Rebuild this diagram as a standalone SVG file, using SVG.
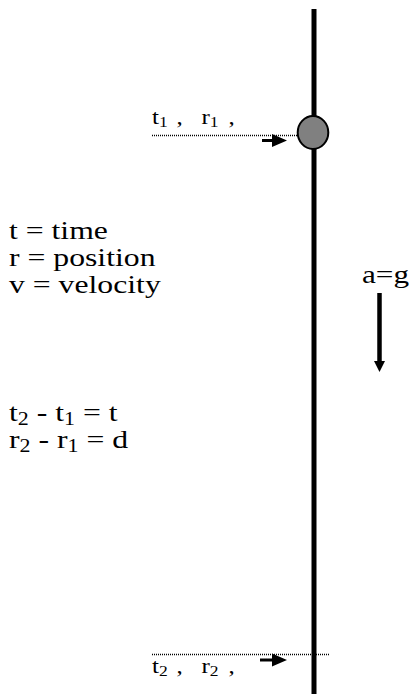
<svg xmlns="http://www.w3.org/2000/svg" width="409" height="694" viewBox="0 0 409 694">
<style>
text{font-family:"Liberation Serif","Times New Roman",serif;fill:#000;white-space:pre}
.big{font-size:26px}
.small{font-size:20px}
.sub{font-size:18px}
.ssub{font-size:14px}
.dot{stroke:#000;stroke-width:1.5;stroke-dasharray:1 1;fill:none}
.shaft{stroke:#000;fill:none}
</style>
<rect width="409" height="694" fill="#fff"/>
<g id="pole"><line x1="314" y1="9" x2="314" y2="694" stroke="#000" stroke-width="5"/></g>
<g id="ball"><ellipse cx="313" cy="132.5" rx="15.3" ry="16.5" fill="#808080" stroke="#000" stroke-width="2"/></g>
<g id="connectors">
<line class="dot" x1="152" y1="135.5" x2="297" y2="135.5"/>
<line class="shaft" x1="262" y1="140.5" x2="274" y2="140.5" stroke-width="3"/>
<polygon points="272,134 287,140.5 272,147" fill="#000"/>
<line class="dot" x1="152" y1="654.5" x2="330" y2="654.5"/>
<line class="shaft" x1="260" y1="660" x2="274" y2="660" stroke-width="3"/>
<polygon points="272,653.5 287,660 272,666.5" fill="#000"/>
<line class="shaft" x1="379.5" y1="293" x2="379.5" y2="363" stroke-width="4.5"/>
<polygon points="374,361 385,361 379.5,372" fill="#000"/>
</g>
<g id="label-top"><text class="small" transform="translate(152,124) scale(1.25,1)">t<tspan class="ssub" dy="3">1</tspan><tspan dy="-3" dx="2"> ,   r</tspan><tspan class="ssub" dy="3">1</tspan><tspan dy="-3" dx="3"> ,</tspan></text></g>
<g id="label-bottom"><text class="small" transform="translate(152,673) scale(1.25,1)">t<tspan class="ssub" dy="3">2</tspan><tspan dy="-3" dx="2"> ,   r</tspan><tspan class="ssub" dy="3">2</tspan><tspan dy="-3" dx="3"> ,</tspan></text></g>
<g id="legend">
<text class="big" transform="translate(9,239) scale(1.22,1)">t = time</text>
<text class="big" transform="translate(9,266) scale(1.22,1)">r = position</text>
<text class="big" transform="translate(9,293) scale(1.22,1)">v = velocity</text>
<text class="big" transform="translate(9,421) scale(1.22,1)">t<tspan class="sub" dy="4">2</tspan><tspan dy="-4"> - t</tspan><tspan class="sub" dy="4">1</tspan><tspan dy="-4"> = t</tspan></text>
<text class="big" transform="translate(9,448) scale(1.22,1)">r<tspan class="sub" dy="4">2</tspan><tspan dy="-4"> - r</tspan><tspan class="sub" dy="4">1</tspan><tspan dy="-4"> = d</tspan></text>
</g>
<g id="accel"><text class="big" transform="translate(362,283) scale(1.2,1)">a=g</text></g>
</svg>
